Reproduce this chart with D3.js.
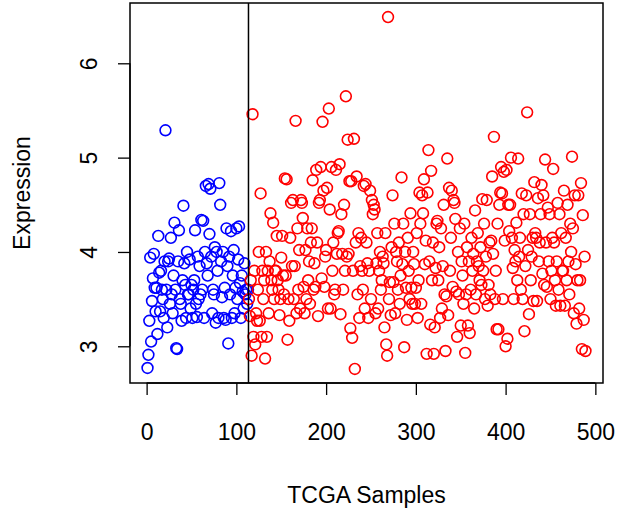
<!DOCTYPE html>
<html>
<head>
<meta charset="utf-8">
<script src="https://cdn.jsdelivr.net/npm/d3@7"></script>
<style>
  body { margin: 0; background: #fff; }
  svg { display: block; font-family: "Liberation Sans", Arial, sans-serif; }
</style>
</head>
<body>
<svg id="chart"></svg>
<script>
// expression per sample, in sample order (first group blue, rest red)
var blueValues = [
  2.77, 2.91, 3.27, 3.94, 3.05, 3.48, 3.72, 3.98, 3.62, 3.37,
  3.62, 3.13, 4.17, 3.78, 3.37, 3.8, 3.6, 3.5, 3.3, 3.9,
  5.29, 3.6, 3.2, 3.9, 3.93, 3.45, 4.15, 3.55, 3.35, 3.75,
  4.31, 3.6, 2.98, 2.97, 3.9, 4.23, 3.5, 3.45, 3.27, 3.7,
  4.49, 3.88, 3.65, 3.3, 4.0, 3.55, 3.55, 3.92, 3.4, 3.65,
  3.3, 3.6, 3.7, 4.23, 3.45, 3.31, 3.95, 3.5, 3.85, 3.55,
  4.34, 3.6, 4.33, 3.3, 4.0, 4.7, 3.88, 3.75, 4.72, 4.19,
  4.67, 3.95, 3.35, 3.6, 3.55, 4.05, 3.25, 4.0, 3.8, 3.3,
  4.73, 4.5, 3.9, 3.52, 4.0, 3.3, 3.62, 3.28, 4.25, 3.85,
  3.03, 3.95, 3.55, 4.22, 3.3, 3.75, 4.02, 3.35, 3.62, 4.25,
  3.5, 3.92, 4.27, 3.67, 3.3, 3.75, 3.58, 3.4, 3.88, 3.55,
  3.6, 3.45, 3.6
];
var redValues = [
  3.5, 3.32, 3.7, 2.9, 5.46, 3.1, 3.8, 3.02, 3.35, 3.27,
  3.6, 4.0, 3.27, 4.62, 3.1, 3.8, 3.5, 3.7, 2.87, 4.0,
  3.1, 3.8, 3.35, 3.9, 4.41, 3.7, 3.6, 4.31, 3.5, 3.8,
  3.8, 4.17, 3.7, 3.6, 3.33, 3.5, 3.94, 4.17, 3.75, 3.55,
  4.78, 3.75, 4.77, 3.07, 3.5, 3.27, 4.15, 4.52, 3.85, 4.55,
  3.5, 3.85, 5.39, 3.35, 4.25, 3.6, 4.02, 3.4, 4.55, 4.52,
  4.36, 3.63, 3.35, 4.02, 3.5, 4.25, 3.7, 3.9, 3.45, 4.1,
  4.25, 4.76, 3.6, 3.88, 3.63, 4.87, 4.1, 3.32, 4.52, 4.55,
  4.9, 3.72, 5.38, 4.65, 3.63, 3.95, 4.02, 4.68, 3.4, 5.52,
  4.45, 3.4, 4.9, 3.8, 4.1, 3.55, 3.6, 4.87, 3.98, 4.2,
  4.22, 4.93, 3.34, 4.4, 3.98, 3.6, 4.5, 3.8, 5.65, 3.95,
  5.19, 3.98, 4.75, 3.19, 4.75, 3.09, 3.8, 5.2, 2.76, 4.1,
  4.8, 3.55, 4.2, 3.3, 3.85, 4.15, 3.8, 3.6, 4.7, 3.4,
  4.72, 4.1, 3.88, 3.3, 3.8, 4.65, 3.5, 4.55, 4.4, 4.5,
  4.45, 3.35, 3.88, 4.2, 3.4, 3.8, 4.0, 3.6, 3.7, 3.95,
  3.88, 3.2, 4.2, 3.02, 2.9, 6.49, 3.5, 3.68, 3.33, 4.05,
  4.6, 3.68, 4.3, 3.35, 4.0, 3.9, 3.6, 4.1, 3.45, 3.75,
  4.79, 3.87, 4.3, 2.99, 4.0, 3.62, 3.28, 4.15, 3.8, 3.5,
  4.41, 3.62, 3.45, 4.0, 3.87, 3.45, 3.62, 4.2, 3.3, 3.7,
  4.63, 4.3, 3.45, 4.6, 4.41, 4.77, 3.87, 4.12, 2.92, 4.63,
  5.08, 3.9, 3.23, 4.86, 3.7, 4.1, 2.92, 3.2, 3.83, 4.3,
  4.33, 3.7, 4.05, 3.3, 4.25, 3.4, 3.85, 4.5, 3.55, 2.95,
  3.53, 4.99, 3.33, 4.68, 3.8, 4.15, 4.65, 3.63, 4.55, 4.52,
  4.35, 3.58, 3.1, 4.0, 3.55, 4.25, 3.22, 3.9, 3.75, 3.45,
  4.3, 2.93, 3.55, 4.05, 3.22, 3.9, 3.14, 3.6, 4.15, 3.8,
  3.98, 3.4, 4.44, 3.55, 3.9, 4.2, 3.85, 3.7, 4.05, 3.65,
  4.56, 3.8, 4.3, 3.5, 3.95, 4.55, 3.43, 3.65, 4.1, 3.55,
  4.12, 4.8, 3.98, 5.22, 3.5, 3.8, 3.18, 4.3, 3.18, 4.5,
  4.63, 4.9, 4.62, 3.5, 4.85, 4.12, 3.0, 4.87, 3.08, 4.5,
  4.22, 4.5, 5.0, 4.15, 3.83, 3.5, 4.02, 3.9, 4.31, 3.7,
  4.99, 3.95, 4.15, 3.6, 4.62, 3.5, 4.4, 3.16, 3.85, 4.6,
  5.48, 4.02, 3.34, 4.4, 3.7, 3.95, 4.15, 3.48, 4.74, 4.2,
  4.15, 3.48, 4.57, 3.9, 4.1, 4.4, 4.71, 3.77, 4.6, 3.65,
  4.98, 4.1, 3.63, 4.47, 3.9, 4.4, 3.5, 3.8, 4.15, 4.88,
  4.1, 3.7, 3.43, 3.9, 4.52, 3.6, 4.4, 3.43, 4.2, 3.8,
  3.8, 4.65, 3.43, 4.15, 3.7, 4.5, 3.9, 3.55, 4.3, 4.0,
  5.01, 4.25, 3.35, 4.6, 3.87, 3.24, 3.7, 4.6, 3.4, 3.7,
  4.73, 2.97, 4.39, 3.28, 3.95, 2.95
];
var groupColors = ["#0000ff", "#ff0000"];
var xTicks = [0, 100, 200, 300, 400, 500];
var yTicks = [3, 4, 5, 6];
var xLabel = "TCGA Samples";
var yLabel = "Expression";

var width = 624, height = 511;
var plot = {left: 130, right: 603, top: 3, bottom: 383};
var fontSize = "23px";

var points = [];
blueValues.forEach(function(v, i) {
    points.push({x: i + 1, y: v, group: 0});
});
redValues.forEach(function(v, i) {
    points.push({x: blueValues.length + i + 1, y: v, group: 1});
});
var cutoff = blueValues.length + 0.5;

// R style 4% padding around the data range
function pad(ext) {
    var d = (ext[1] - ext[0]) * 0.04;
    return [ext[0] - d, ext[1] + d];
}

var x = d3.scaleLinear()
    .domain(pad(d3.extent(points, function(d) { return d.x; })))
    .range([plot.left, plot.right]);
var y = d3.scaleLinear()
    .domain(pad(d3.extent(points, function(d) { return d.y; })))
    .range([plot.bottom, plot.top]);

var svg = d3.select("#chart")
    .attr("width", width)
    .attr("height", height);

svg.append("rect")
    .attr("width", width)
    .attr("height", height)
    .attr("fill", "#fff");

// points
svg.append("g")
    .selectAll("circle")
    .data(points)
    .enter()
    .append("circle")
    .attr("cx", function(d) { return x(d.x); })
    .attr("cy", function(d) { return y(d.y); })
    .attr("r", 5.4)
    .attr("fill", "none")
    .attr("stroke", function(d) { return groupColors[d.group]; })
    .attr("stroke-width", 1.6);

// split line
svg.append("line")
    .attr("x1", x(cutoff)).attr("x2", x(cutoff))
    .attr("y1", plot.top).attr("y2", plot.bottom)
    .attr("stroke", "#000")
    .attr("stroke-width", 1.5);

// box
svg.append("rect")
    .attr("x", plot.left)
    .attr("y", plot.top)
    .attr("width", plot.right - plot.left)
    .attr("height", plot.bottom - plot.top)
    .attr("fill", "none")
    .attr("stroke", "#000")
    .attr("stroke-width", 1.5);

// axes
var xAxis = svg.append("g")
    .attr("transform", "translate(0," + plot.bottom + ")")
    .call(d3.axisBottom(x).tickValues(xTicks).tickFormat(d3.format("d"))
        .tickSizeOuter(0).tickSize(12).tickPadding(29));
var yAxis = svg.append("g")
    .attr("transform", "translate(" + plot.left + ",0)")
    .call(d3.axisLeft(y).tickValues(yTicks).tickFormat(d3.format("d"))
        .tickSizeOuter(0).tickSize(12));

[xAxis, yAxis].forEach(function(a) {
    a.select(".domain").remove();
    a.selectAll("line").attr("stroke", "#000").attr("stroke-width", 1.3);
    a.selectAll("text")
        .attr("fill", "#000")
        .style("font-size", fontSize)
        .style("font-family", "'Liberation Sans', Arial, sans-serif");
});

// axis lines only between first and last tick
xAxis.append("line")
    .attr("x1", x(xTicks[0])).attr("x2", x(xTicks[xTicks.length - 1]))
    .attr("stroke", "#000").attr("stroke-width", 1.3);
yAxis.append("line")
    .attr("y1", y(yTicks[0])).attr("y2", y(yTicks[yTicks.length - 1]))
    .attr("stroke", "#000").attr("stroke-width", 1.3);

// y tick labels rotated like R
yAxis.selectAll(".tick text")
    .attr("x", null)
    .attr("dy", null)
    .attr("text-anchor", "middle")
    .attr("transform", "translate(-33,0) rotate(-90)");

svg.append("text")
    .attr("x", (plot.left + plot.right) / 2)
    .attr("y", 503)
    .attr("text-anchor", "middle")
    .style("font-size", fontSize)
    .text(xLabel);

svg.append("text")
    .attr("transform", "translate(30," + ((plot.top + plot.bottom) / 2) + ") rotate(-90)")
    .attr("text-anchor", "middle")
    .style("font-size", fontSize)
    .text(yLabel);
</script>
</body>
</html>
